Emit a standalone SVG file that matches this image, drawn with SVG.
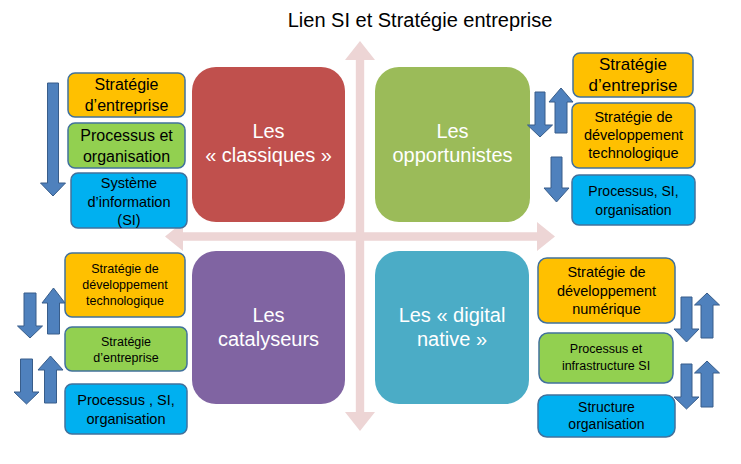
<svg xmlns="http://www.w3.org/2000/svg" width="741" height="464" viewBox="0 0 741 464">
<defs>
<style>
text{font-family:"Liberation Sans",Arial,sans-serif;text-anchor:middle;fill:#000}
.title{font-size:20px;fill:#000}
.q{font-size:20px;fill:#fff}
.qbox{stroke:none}
.sb{stroke:#41719C;stroke-width:1.5}
.or{fill:#FFC000}
.gr{fill:#92D050}
.cy{fill:#00B0F0}
.ar{fill:#4F81BD;stroke:#385D8A;stroke-width:1}
.axis{fill:#EDD5D5}
</style>
</defs>
<rect width="741" height="464" fill="#fff"/>
<text class="title" x="420" y="27">Lien SI et Stratégie entreprise</text>

<g id="axes">
<path class="axis" d="M360,41 L375,60 H364.2 V412 H375 L360,431 L345,412 H355.8 V60 H345 Z"/>
<path class="axis" d="M165,236.5 L183,222 V232.2 H537 V222 L555,236.5 L537,251 V240.8 H183 V251 Z"/>
</g>

<g id="q-classiques">
<rect class="qbox" x="192" y="67" width="153" height="155" rx="24" fill="#C0504D"/>
<text class="q" x="268.5" y="138">Les</text>
<text class="q" x="268.5" y="162">« classiques »</text>
</g>
<g id="q-opportunistes">
<rect class="qbox" x="375" y="67" width="155" height="155" rx="24" fill="#9BBB59"/>
<text class="q" x="452.5" y="138">Les</text>
<text class="q" x="452.5" y="162">opportunistes</text>
</g>
<g id="q-catalyseurs">
<rect class="qbox" x="192" y="251" width="153" height="153" rx="24" fill="#8064A2"/>
<text class="q" x="268.5" y="322">Les</text>
<text class="q" x="268.5" y="346">catalyseurs</text>
</g>
<g id="q-digital">
<rect class="qbox" x="375" y="251" width="154" height="153" rx="24" fill="#4BACC6"/>
<text class="q" x="452" y="322">Les « digital</text>
<text class="q" x="452" y="346">native »</text>
</g>

<!-- top-left -->
<g id="tl-strategie">
<rect class="sb or" x="68" y="73" width="117" height="44" rx="7"/>
<text x="126.5" y="90" font-size="16">Stratégie</text>
<text x="126.5" y="111" font-size="16">d’entreprise</text>
</g>
<g id="tl-processus">
<rect class="sb gr" x="68" y="123" width="117" height="45" rx="7"/>
<text x="126.5" y="141" font-size="16">Processus et</text>
<text x="126.5" y="162" font-size="16">organisation</text>
</g>
<g id="tl-si">
<rect class="sb cy" x="71" y="173" width="116" height="55" rx="7"/>
<text x="129" y="188" font-size="14.5">Système</text>
<text x="129" y="207" font-size="14.5">d’information</text>
<text x="129" y="225" font-size="14.5">(SI)</text>
</g>

<!-- top-right -->
<g id="tr-strategie">
<rect class="sb or" x="573" y="53" width="120" height="44" rx="7"/>
<text x="633" y="70" font-size="17">Stratégie</text>
<text x="633" y="91" font-size="17">d’entreprise</text>
</g>
<g id="tr-techno">
<rect class="sb or" x="572" y="103" width="123" height="65" rx="7"/>
<text x="633.5" y="122" font-size="14.5">Stratégie de</text>
<text x="633.5" y="140" font-size="14.5">développement</text>
<text x="633.5" y="158" font-size="14.5">technologique</text>
</g>
<g id="tr-processus">
<rect class="sb cy" x="572" y="175" width="123" height="50" rx="7"/>
<text x="633.5" y="196" font-size="14">Processus, SI,</text>
<text x="633.5" y="215" font-size="14">organisation</text>
</g>

<!-- bottom-left -->
<g id="bl-techno">
<rect class="sb or" x="65" y="253" width="120" height="64" rx="7"/>
<text x="125" y="273" font-size="12.5">Stratégie de</text>
<text x="125" y="289" font-size="12.5">développement</text>
<text x="125" y="305" font-size="12.5">technologique</text>
</g>
<g id="bl-strategie">
<rect class="sb gr" x="65" y="327" width="122" height="44" rx="7"/>
<text x="126" y="346" font-size="12.5">Stratégie</text>
<text x="126" y="362" font-size="12.5">d’entreprise</text>
</g>
<g id="bl-processus">
<rect class="sb cy" x="65" y="384" width="122" height="50" rx="7"/>
<text x="126" y="405" font-size="14.5">Processus , SI,</text>
<text x="126" y="424" font-size="14.5">organisation</text>
</g>

<!-- bottom-right -->
<g id="br-numerique">
<rect class="sb or" x="538" y="258" width="137" height="65" rx="9"/>
<text x="606.5" y="277" font-size="14.5">Stratégie de</text>
<text x="606.5" y="296" font-size="14.5">développement</text>
<text x="606.5" y="314" font-size="14.5">numérique</text>
</g>
<g id="br-processus">
<rect class="sb gr" x="539" y="333" width="134" height="50" rx="9"/>
<text x="606" y="353" font-size="12.5">Processus et</text>
<text x="606" y="370" font-size="12.5">infrastructure SI</text>
</g>
<g id="br-structure">
<rect class="sb cy" x="538" y="395" width="137" height="42" rx="9"/>
<text x="606.5" y="412" font-size="14">Structure</text>
<text x="606.5" y="429" font-size="14">organisation</text>
</g>

<g id="connectors">
<path class="ar" d="M47.5,83 H58.5 V183 H65.5 L53,196 L40.5,183 H47.5 Z"/>
<path class="ar" d="M535,92 H545 V125 H552.5 L540,137 L527.5,125 H535 Z"/>
<path class="ar" d="M555,133 V102 H549 L561,88 L573,102 H567 V133 Z"/>
<path class="ar" d="M551,157 H562 V188 H569 L556.5,202 L544,188 H551 Z"/>
<path class="ar" d="M24,293 H36 V326 H42.5 L30,338 L17.5,326 H24 Z"/>
<path class="ar" d="M47.5,334 V303 H42 L53.5,288 L65,303 H59.5 V334 Z"/>
<path class="ar" d="M20.5,359 H32.5 V392 H39 L26.5,404 L14,392 H20.5 Z"/>
<path class="ar" d="M44.5,403 V370 H38 L50.5,356 L63,370 H56.5 V403 Z"/>
<path class="ar" d="M681,297 H692 V329 H699 L686.5,342 L674,329 H681 Z"/>
<path class="ar" d="M701,338 V305 H694.5 L707,293 L719.5,305 H713 V338 Z"/>
<path class="ar" d="M681,364 H692 V397 H699 L686.5,409 L674,397 H681 Z"/>
<path class="ar" d="M701,407 V373 H694.5 L707,361 L719.5,373 H713 V407 Z"/>
</g>
</svg>
